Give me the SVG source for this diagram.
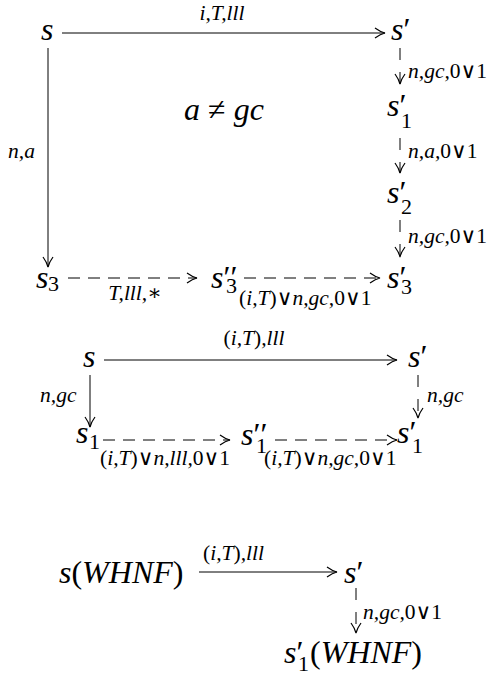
<svg xmlns="http://www.w3.org/2000/svg" width="492" height="678" viewBox="0 0 492 678">
<style>
  text { font-family: "Liberation Serif", "Times New Roman", "DejaVu Serif", "Noto Serif", serif; fill: #000; }
  .m { font-size: 32px; font-style: italic; }
  .l { font-size: 21.5px; font-style: italic; }
  .up { font-style: normal; }
  .sub { font-size: 22px; font-style: normal; }
  .e { stroke: #000; stroke-width: 1; fill: none; }
  .dh { stroke-dasharray: 12 8; }
  .dv { stroke-dasharray: 12 12; }
</style>
<defs>
  <marker id="ah" markerUnits="userSpaceOnUse" viewBox="-12 -7 14 14" refX="0" refY="0" markerWidth="14" markerHeight="14" orient="auto">
    <path d="M-10,-5 Q-4.5,-1 0,0 Q-4.5,1 -10,5" fill="none" stroke="#000" stroke-width="1.2" stroke-dasharray="none"/>
  </marker>
</defs>
<g font-family="'Liberation Serif', 'Times New Roman', 'DejaVu Serif', serif">

<!-- Diagram 1 nodes -->
<g id="d1-s"><text class="m" x="41" y="40">s</text></g>
<g id="d1-sp"><text class="m" x="391" y="40">s<tspan class="up">′</tspan></text></g>
<g id="d1-sp1"><text class="m" x="387" y="116">s<tspan class="up">′</tspan><tspan class="sub" x="401" y="128">1</tspan></text></g>
<g id="d1-sp2"><text class="m" x="387" y="203">s<tspan class="up">′</tspan><tspan class="sub" x="401" y="214">2</tspan></text></g>
<g id="d1-sp3"><text class="m" x="387" y="288">s<tspan class="up">′</tspan><tspan class="sub" x="401" y="294">3</tspan></text></g>
<g id="d1-s3"><text class="m" x="36" y="288">s<tspan class="sub" x="48" y="291">3</tspan></text></g>
<g id="d1-spp3"><text class="m" x="211" y="288">s<tspan class="up">′′</tspan><tspan class="sub" x="226" y="293">3</tspan></text></g>
<g id="d1-note"><text class="m" x="224" y="120" text-anchor="middle">a <tspan class="up">≠</tspan> gc</text></g>

<!-- Diagram 2 nodes -->
<g id="d2-s"><text class="m" x="83" y="367">s</text></g>
<g id="d2-sp"><text class="m" x="408" y="367">s<tspan class="up">′</tspan></text></g>
<g id="d2-s1"><text class="m" x="76" y="443">s<tspan class="sub" x="89" y="449">1</tspan></text></g>
<g id="d2-spp1"><text class="m" x="241" y="445">s<tspan class="up">′′</tspan><tspan class="sub" x="256" y="453">1</tspan></text></g>
<g id="d2-sp1"><text class="m" x="397" y="443">s<tspan class="up">′</tspan><tspan class="sub" x="412" y="453">1</tspan></text></g>

<!-- Diagram 3 nodes -->
<g id="d3-s"><text class="m" x="59" y="583">s<tspan class="up">(</tspan>WHNF<tspan class="up">)</tspan></text></g>
<g id="d3-sp"><text class="m" x="344" y="583">s<tspan class="up">′</tspan></text></g>
<g id="d3-sp1"><text class="m" x="284" y="663">s<tspan class="up">′</tspan><tspan class="sub" x="298" y="671">1</tspan><tspan x="310" y="663"><tspan class="up">(</tspan>WHNF<tspan class="up">)</tspan></tspan></text></g>

<!-- Connectors -->
<g id="connectors">
  <!-- Diagram 1 -->
  <line class="e" x1="62" y1="33" x2="385" y2="33" marker-end="url(#ah)"/>
  <text class="l" x="222" y="20" text-anchor="middle">i,T,lll</text>

  <line class="e dv" x1="400" y1="48" x2="400" y2="84" marker-end="url(#ah)"/>
  <text class="l" x="408" y="78">n,gc,<tspan class="up">0∨1</tspan></text>

  <line class="e dv" x1="400" y1="138" x2="400" y2="173" marker-end="url(#ah)"/>
  <text class="l" x="408" y="158">n,a,<tspan class="up">0∨1</tspan></text>

  <line class="e dv" x1="400" y1="220" x2="400" y2="257" marker-end="url(#ah)"/>
  <text class="l" x="408" y="243">n,gc,<tspan class="up">0∨1</tspan></text>

  <line class="e" x1="48" y1="48" x2="48" y2="267" marker-end="url(#ah)"/>
  <text class="l" x="8" y="158">n,a</text>

  <line class="e dh" x1="68" y1="278" x2="197" y2="278" marker-end="url(#ah)"/>
  <text class="l" x="135" y="300" text-anchor="middle">T,lll,<tspan class="up">∗</tspan></text>

  <line class="e dh" x1="244" y1="278" x2="380" y2="278" marker-end="url(#ah)"/>
  <text class="l" x="239" y="305"><tspan class="up">(</tspan>i,T<tspan class="up">)∨</tspan>n,gc,<tspan class="up">0∨1</tspan></text>

  <!-- Diagram 2 -->
  <line class="e" x1="104" y1="360" x2="397" y2="360" marker-end="url(#ah)"/>
  <text class="l" x="254" y="345" text-anchor="middle"><tspan class="up">(</tspan>i,T<tspan class="up">)</tspan>,lll</text>

  <line class="e dv" x1="418" y1="375" x2="418" y2="418" marker-end="url(#ah)"/>
  <text class="l" x="427" y="402">n,gc</text>

  <line class="e" x1="90" y1="375" x2="90" y2="427" marker-end="url(#ah)"/>
  <text class="l" x="40" y="402">n,gc</text>

  <line class="e dh" x1="103" y1="440" x2="230" y2="440" marker-end="url(#ah)"/>
  <text class="l" x="100" y="465"><tspan class="up">(</tspan>i,T<tspan class="up">)∨</tspan>n,lll,<tspan class="up">0∨1</tspan></text>

  <line class="e dh" x1="275" y1="440" x2="397" y2="440" marker-end="url(#ah)"/>
  <text class="l" x="264" y="465"><tspan class="up">(</tspan>i,T<tspan class="up">)∨</tspan>n,gc,<tspan class="up">0∨1</tspan></text>

  <!-- Diagram 3 -->
  <line class="e" x1="199" y1="572" x2="337" y2="572" marker-end="url(#ah)"/>
  <text class="l" x="203" y="560"><tspan class="up">(</tspan>i,T<tspan class="up">)</tspan>,lll</text>

  <line class="e dv" x1="356" y1="588" x2="356" y2="633" marker-end="url(#ah)"/>
  <text class="l" x="363" y="619">n,gc,<tspan class="up">0∨1</tspan></text>
</g>
</g>
</svg>
